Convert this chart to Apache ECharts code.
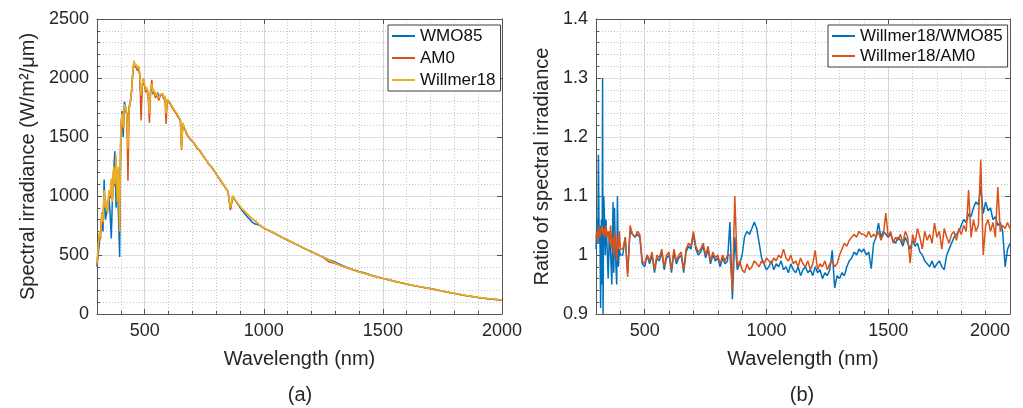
<!DOCTYPE html>
<html>
<head>
<meta charset="utf-8">
<script src="https://cdn.jsdelivr.net/npm/echarts@6/dist/echarts.min.js"></script>
<style>
html,body{margin:0;padding:0;background:#fff;}
#chart{width:1023px;height:408px;}
</style>
</head>
<body>
<div id="chart"></div>
<script>
// ---------- Data ----------
const xTicks = [500, 1000, 1500, 2000];

const wavelengths = [300,305,310,315,320,325,330,335,340,345,350,355,360,365,370,375,380,385,390,395,400,
405,410,415,420,425,430,435,440,445,450,455,460,465,470,475,480,485,490,495,500,
505,510,515,520,525,530,535,540,545,550,555,560,565,570,575,580,585,590,595,600,
605,610,615,620,625,630,635,640,645,650,655,660,665,670,675,680,685,690,695,700,
710,720,730,740,750,760,770,780,790,800,810,820,830,840,850,860,870,880,890,900,910,920,930,940,950,960,970,980,990,1000,
1025,1050,1075,1100,1125,1150,1175,1200,1225,1250,1275,1300,1325,1350,1375,1400,1425,1450,1475,1500,
1525,1550,1575,1600,1625,1650,1675,1700,1725,1750,1775,1800,1825,1850,1875,1900,1925,1950,1975,2000];

const wmo85 = [400,500,600,700,820,700,1140,800,790,900,1000,850,640,1000,1200,1380,900,1150,850,483,1550,
1720,1500,1800,1750,1700,1450,1760,1800,1890,2040,2140,2100,2110,2070,2090,2020,1800,1940,1990,1930,
1890,1910,1840,1720,1890,1940,1870,1890,1850,1865,1875,1825,1855,1845,1865,1825,1845,1720,1815,1815,
1795,1775,1755,1745,1725,1710,1695,1675,1665,1645,1420,1615,1585,1565,1535,1515,1505,1485,1475,1465,
1440,1410,1390,1360,1330,1300,1270,1250,1220,1190,1160,1130,1100,1070,1040,890,1000,965,935,905,875,850,825,805,780,765,760,755,745,728,
705,680,652,627,602,577,552,528,505,482,458,440,415,395,377,360,348,331,316,302,
290,278,266,255,244,234,225,216,205,194,184,175,166,156,148,140,134,128,123,118];

const am0 = [420,580,680,640,860,760,1020,920,950,870,1040,980,1130,970,1240,1080,1330,980,1230,720,1580,
1680,1560,1760,1720,1690,1130,1740,1790,1880,2030,2130,2090,2110,2060,2080,2020,1640,1930,1990,1930,
1880,1900,1830,1620,1880,1985,1860,1890,1830,1860,1870,1810,1850,1840,1860,1820,1840,1610,1810,1810,
1790,1770,1750,1740,1720,1705,1690,1670,1660,1640,1390,1610,1580,1560,1530,1510,1500,1485,1475,1465,
1435,1405,1385,1355,1325,1295,1265,1245,1215,1185,1155,1125,1095,1065,1035,880,990,965,935,910,888,868,848,828,808,793,778,758,743,728,
703,678,650,625,600,575,550,526,503,478,440,428,408,390,373,356,342,327,313,300,
288,276,264,252,242,232,222,213,203,193,183,173,164,155,147,139,133,127,122,117];

const willmer18 = [430,560,700,650,850,780,1050,900,960,850,1050,1000,1150,950,1250,1100,1350,950,1250,700,1600,
1700,1580,1780,1740,1700,1400,1750,1800,1900,2050,2150,2100,2120,2080,2100,2030,1850,1950,2000,1940,
1900,1920,1850,1700,1900,1950,1880,1900,1850,1870,1880,1830,1860,1850,1870,1830,1850,1700,1820,1820,
1800,1780,1760,1750,1730,1715,1700,1680,1670,1650,1400,1620,1590,1570,1540,1520,1510,1490,1480,1470,
1440,1410,1390,1360,1330,1300,1270,1250,1220,1190,1160,1130,1100,1070,1040,900,1000,970,940,915,890,870,850,830,810,795,780,760,745,730,
705,680,652,627,602,577,552,528,505,480,455,430,410,392,375,358,344,329,315,302,
290,278,266,254,244,234,224,215,205,195,185,175,166,157,149,141,135,129,124,119];

const ratioWavelengths = [300,304,308,310,313,316,319,322,325,327,329,332,335,338,341,345,350,355,360,365,370,373,376,380,385,388,392,396,400,
410,420,430,440,450,460,470,480,490,500,510,520,530,540,550,560,570,580,590,600,
610,620,630,640,650,660,670,680,690,700,710,720,730,740,750,760,770,780,790,800,
810,820,830,840,850,860,870,880,890,900,910,920,930,940,950,960,970,980,990,1000,
1010,1020,1030,1040,1050,1060,1070,1080,1090,1100,1110,1120,1130,1140,1150,1160,1170,1180,1190,1200,
1210,1220,1230,1240,1250,1260,1270,1280,1290,1300,1310,1320,1330,1340,1350,1360,1370,1380,1390,1400,
1410,1420,1430,1440,1450,1460,1470,1480,1490,1500,1510,1520,1530,1540,1550,1560,1570,1580,1590,1600,
1610,1620,1630,1640,1650,1660,1670,1680,1690,1700,1710,1720,1730,1740,1750,1760,1770,1780,1790,1800,
1810,1820,1830,1840,1850,1860,1870,1880,1890,1900,1910,1920,1930,1940,1950,1960,1970,1980,1990,2000];

const ratioWMO85 = [1.01,1.06,1.03,1.17,1.02,1.05,0.91,1.06,0.95,1.30,0.90,1.10,1.06,1.00,1.06,1.02,0.96,1.04,1.00,0.95,1.09,0.97,1.08,1.00,0.95,1.10,0.98,1.01,1.00,
1.0,1.03,0.97,1.04,1.035,1.03,1.035,1.03,0.985,0.98,
1.0,0.985,1.0,0.97,0.995,0.99,1.005,0.975,0.995,1.0,
0.97,1.005,0.985,0.995,1.0,0.97,1.005,1.015,1.01,1.035,
1.01,1.0,1.005,1.015,0.995,1.01,0.985,1.0,0.99,0.995,
0.98,0.995,0.985,0.99,1.056,0.925,1.03,0.975,0.985,1.0,
1.031,1.04,1.035,1.045,1.056,1.045,1.02,0.995,0.985,0.975,
0.98,0.99,0.975,0.985,0.98,0.99,0.975,0.98,0.97,0.985,
0.975,0.97,0.98,0.965,0.975,0.98,0.97,0.975,0.965,0.98,
0.97,0.975,0.96,0.97,0.965,0.975,1.008,0.944,0.965,0.96,
0.97,0.965,0.98,0.99,0.995,1.005,1.0,1.01,1.005,1.01,
1.0,1.005,0.977,1.02,1.03,1.054,1.03,1.04,1.035,1.03,
1.035,1.025,1.02,1.03,1.025,1.015,1.03,1.02,1.01,1.025,
1.015,1.02,1.005,1.0,0.99,0.985,0.98,0.99,0.978,0.985,
0.99,0.98,0.975,1.0,1.01,1.02,1.03,1.035,1.04,1.05,
1.06,1.055,1.07,1.065,1.08,1.09,1.085,1.115,1.07,1.09,
1.075,1.08,1.06,1.065,1.05,1.055,1.04,0.98,1.01,1.02];

const ratioAM0 = [1.03,1.04,1.02,1.05,1.04,1.03,1.045,1.04,1.05,1.04,1.035,1.045,1.03,1.04,1.05,1.03,1.04,1.02,1.05,1.01,1.03,1.0,1.04,1.02,0.99,1.03,1.01,1.04,1.01,
1.01,1.03,0.963,1.05,1.035,1.03,1.04,1.035,0.99,0.985,
1.0,0.99,1.005,0.975,1.0,0.995,1.01,0.98,1.0,1.005,
0.975,1.01,0.99,1.0,1.005,0.975,1.01,1.02,1.015,1.04,
1.015,1.005,1.01,1.02,1.0,1.015,0.99,1.005,0.995,1.0,
0.985,1.0,0.99,1.0,1.0,0.94,1.10,0.98,0.99,0.975,
0.97,0.985,0.975,0.98,0.99,0.985,0.98,0.99,0.985,0.995,
0.99,0.985,0.995,0.99,1.0,0.995,1.01,0.995,0.99,1.0,
0.985,0.99,0.98,0.995,0.985,0.98,0.99,0.975,0.985,1.008,
0.975,0.985,0.98,0.99,0.975,0.985,0.99,0.98,0.985,1.0,
1.01,1.02,1.015,1.025,1.03,1.035,1.03,1.04,1.035,1.035,
1.03,1.04,1.03,1.035,1.03,1.04,1.025,1.035,1.071,1.03,
1.04,1.02,1.03,1.025,1.035,1.02,1.04,1.03,0.986,1.035,
1.02,1.045,1.03,1.01,1.04,1.025,1.035,1.02,1.054,1.03,
1.04,1.01,1.045,1.03,1.02,1.035,1.04,1.025,1.045,1.035,
1.05,1.04,1.11,1.03,1.06,1.04,1.05,1.162,1.0,1.05,
1.06,1.04,1.055,1.03,1.115,1.04,1.05,1.045,1.055,1.045];

// ---------- Styling ----------
const C_BLUE = '#0072BD', C_ORANGE = '#D95319', C_YELLOW = '#EDB120';
const TXT = '#262626';
const FONT = 'Liberation Sans, Arial, Helvetica, sans-serif';
const AXIS_COL = '#555555';
const MAJOR_GRID = '#dedede';
const MINOR_GRID = '#c4c4c4';
const plain = v => String(+(+v).toFixed(2));

const zip = (xs, ys) => xs.map((x, i) => [x, ys[i]]);

function majorX(grid, alignMax) {
  return {
    gridIndex: grid, type: 'value', min: 300, max: 2000, position: 'bottom',
    name: 'Wavelength (nm)', nameLocation: 'middle', nameGap: 35,
    nameTextStyle: { fontSize: 20, color: TXT, fontFamily: FONT },
    axisLine: { show: true, onZero: false, lineStyle: { color: AXIS_COL, width: 1 } },
    axisTick: { show: true, inside: true, length: 5, customValues: xTicks, lineStyle: { color: AXIS_COL } },
    axisLabel: { customValues: xTicks, fontSize: 18, color: TXT, fontFamily: FONT, margin: 8,
                 formatter: plain, alignMaxLabel: alignMax || null },
    splitLine: { show: true, lineStyle: { color: MAJOR_GRID, width: 1 } }
  };
}
function minorX(grid) {
  return {
    gridIndex: grid, type: 'value', min: 300, max: 2000, interval: 100, position: 'bottom',
    axisLine: { show: false, onZero: false },
    axisTick: { show: true, inside: true, length: 3, lineStyle: { color: AXIS_COL } },
    axisLabel: { show: false },
    splitLine: { show: true, lineStyle: { color: MINOR_GRID, width: 1, type: [1, 2] } }
  };
}
function topX(grid) {
  return {
    gridIndex: grid, type: 'value', min: 300, max: 2000, position: 'top',
    axisLine: { show: true, onZero: false, lineStyle: { color: AXIS_COL, width: 1 } },
    axisTick: { show: true, inside: true, length: 5, customValues: xTicks, lineStyle: { color: AXIS_COL } },
    axisLabel: { show: false, customValues: xTicks },
    splitLine: { show: false }
  };
}
function yAxis(grid, min, max, interval, name, gap) {
  return {
    gridIndex: grid, type: 'value', min: min, max: max, interval: interval, position: 'left',
    name: name, nameLocation: 'middle', nameGap: gap,
    nameTextStyle: { fontSize: 20, color: TXT, fontFamily: FONT },
    axisLine: { show: true, onZero: false, lineStyle: { color: AXIS_COL, width: 1 } },
    axisTick: { show: true, inside: true, length: 5, lineStyle: { color: AXIS_COL } },
    minorTick: { show: true, splitNumber: 5, length: 3, lineStyle: { color: AXIS_COL } },
    axisLabel: { fontSize: 18, color: TXT, fontFamily: FONT, margin: 8, formatter: plain },
    splitLine: { show: true, lineStyle: { color: MAJOR_GRID, width: 1 } },
    minorSplitLine: { show: true, lineStyle: { color: MINOR_GRID, width: 1, type: [1, 2] } }
  };
}
function rightY(grid, min, max, interval) {
  return {
    gridIndex: grid, type: 'value', min: min, max: max, interval: interval, position: 'right',
    axisLine: { show: true, onZero: false, lineStyle: { color: AXIS_COL, width: 1 } },
    axisTick: { show: true, inside: true, length: 5, lineStyle: { color: AXIS_COL } },
    axisLabel: { show: false },
    splitLine: { show: false }
  };
}
function lineSeries(name, xi, yi, xs, ys, color) {
  return {
    name: name, type: 'line', xAxisIndex: xi, yAxisIndex: yi,
    data: zip(xs, ys), symbol: 'none', showSymbol: false, animation: false,
    lineStyle: { color: color, width: 1.5 }, itemStyle: { color: color },
    emphasis: { disabled: true }, z: 5
  };
}
const legendBase = {
  orient: 'vertical', backgroundColor: '#ffffff', borderColor: '#3a3a3a', borderWidth: 1,
  borderRadius: 0, itemWidth: 23, itemHeight: 2, icon: 'rect',
  textStyle: { fontSize: 17, color: '#111', fontFamily: FONT, lineHeight: 18 },
  selectedMode: false, z: 10
};

const chart = echarts.init(document.getElementById('chart'), null, { renderer: 'canvas' });
chart.setOption({
  animation: false,
  backgroundColor: '#ffffff',
  grid: [
    { left: 97, top: 19, width: 405, height: 295, show: false },
    { left: 596, top: 19, width: 414, height: 295, show: false }
  ],
  xAxis: [
    majorX(0), minorX(0), topX(0),
    majorX(1, 'right'), minorX(1), topX(1)
  ],
  yAxis: [
    yAxis(0, 0, 2500, 500, 'Spectral irradiance (W/m²/μm)', 59), rightY(0, 0, 2500, 500),
    yAxis(1, 0.9, 1.4, 0.1, 'Ratio of spectral irradiance', 44), rightY(1, 0.9, 1.4, 0.1)
  ],
  legend: [
    Object.assign({}, legendBase, { left: 388, top: 25, itemGap: 4, padding: [2, 5, 2, 4],
      data: ['WMO85', 'AM0', 'Willmer18'] }),
    Object.assign({}, legendBase, { left: 828, top: 25, itemGap: 2, padding: [2, 5, 2, 4],
      data: ['Willmer18/WMO85', 'Willmer18/AM0'] })
  ],
  graphic: [
    { type: 'text', x: 300, y: 395, style: { text: '(a)', fontSize: 20, fontFamily: FONT, fill: TXT, textAlign: 'center', textVerticalAlign: 'middle' } },
    { type: 'text', x: 802, y: 395, style: { text: '(b)', fontSize: 20, fontFamily: FONT, fill: TXT, textAlign: 'center', textVerticalAlign: 'middle' } }
  ],
  series: [
    lineSeries('WMO85', 0, 0, wavelengths, wmo85, C_BLUE),
    lineSeries('AM0', 0, 0, wavelengths, am0, C_ORANGE),
    lineSeries('Willmer18', 0, 0, wavelengths, willmer18, C_YELLOW),
    lineSeries('Willmer18/WMO85', 3, 2, ratioWavelengths, ratioWMO85, C_BLUE),
    lineSeries('Willmer18/AM0', 3, 2, ratioWavelengths, ratioAM0, C_ORANGE)
  ]
});
</script>
</body>
</html>
